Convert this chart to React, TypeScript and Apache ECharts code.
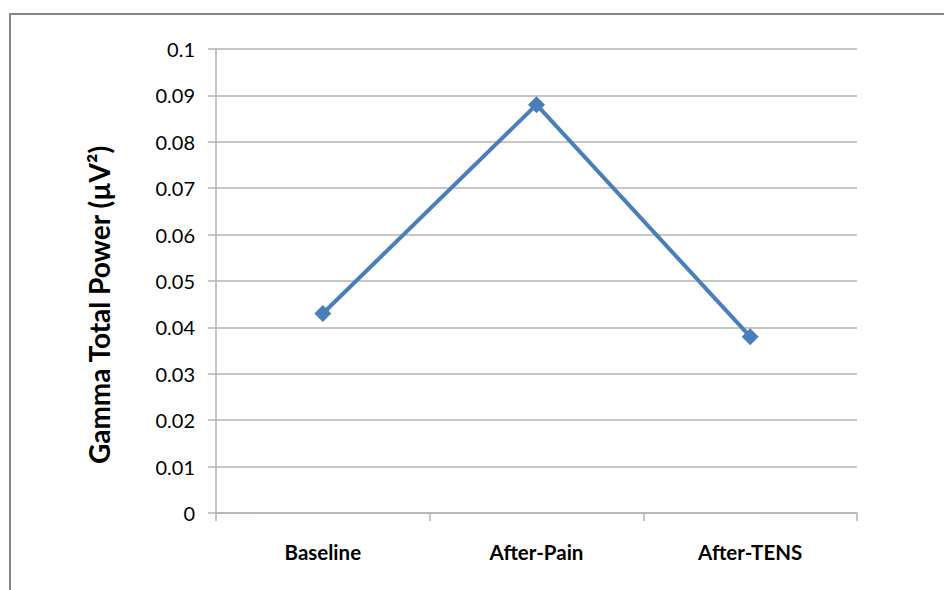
import React, { useEffect, useRef } from "react";
import * as echarts from "echarts";

const categories = ["Baseline", "After-Pain", "After-TENS"];
const gammaPower = [0.043, 0.088, 0.038];
const yAxisTitle = "Gamma Total Power (µV²)";

export default function App() {
  const ref = useRef<HTMLDivElement>(null);
  useEffect(() => {
    if (!ref.current) return;
    const chart = echarts.init(ref.current, undefined, { renderer: "svg" });
    chart.setOption({
      animation: false,
      backgroundColor: "#ffffff",
      textStyle: { fontFamily: "Lato, 'Open Sans', sans-serif" },
      graphic: [
        {
          type: "rect",
          shape: { x: 10, y: 14, width: 950, height: 600 },
          style: { fill: "none", stroke: "#868686", lineWidth: 2 },
          silent: true,
        },
      ],
      grid: { left: 216, top: 49, right: 87, bottom: 77, containLabel: false },
      xAxis: {
        type: "category",
        data: categories,
        boundaryGap: true,
        axisLine: { lineStyle: { color: "#b3b3b3", width: 1.5 } },
        axisTick: { show: true, length: 8, lineStyle: { color: "#b3b3b3", width: 1.5 } },
        axisLabel: { color: "#000", fontSize: 20.5, fontWeight: "bold", margin: 28 },
      },
      yAxis: {
        type: "value",
        min: 0,
        max: 0.1,
        interval: 0.01,
        name: yAxisTitle,
        nameLocation: "middle",
        nameGap: 103,
        nameTextStyle: {
          color: "#000",
          fontSize: 28,
          fontWeight: "bold",
          padding: [0, 48, 0, 0],
        },
        axisLine: { show: true, lineStyle: { color: "#b3b3b3", width: 1.5 } },
        axisTick: { show: true, length: 8, lineStyle: { color: "#b3b3b3", width: 1.5 } },
        axisLabel: {
          color: "#000",
          fontSize: 20,
          margin: 21,
          formatter: (v: number) => String(parseFloat(v.toFixed(2))),
        },
        splitLine: { show: true, lineStyle: { color: "#b3b3b3", width: 1.5 } },
      },
      series: [
        {
          type: "line",
          data: gammaPower,
          symbol: "diamond",
          symbolSize: 17,
          lineStyle: { color: "#4a7ebb", width: 4 },
          itemStyle: { color: "#4a7ebb" },
        },
      ],
    });
    return () => chart.dispose();
  }, []);
  return (
    <div
      ref={ref}
      style={{ position: "absolute", left: 0, top: 0, width: 944, height: 590 }}
    />
  );
}
